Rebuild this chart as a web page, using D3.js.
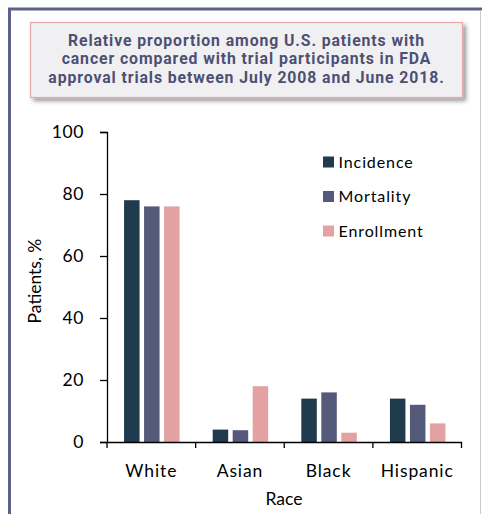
<!DOCTYPE html>
<html>
<head>
<meta charset="utf-8">
<script src="https://cdn.jsdelivr.net/npm/d3@7"></script>
<style>
  html, body { margin: 0; padding: 0; background: #ffffff; }
  svg { display: block; }
</style>
</head>
<body>
<script>
// Race categories and the three measures per category (percent of patients)
const races = ["White", "Asian", "Black", "Hispanic"];
const seriesNames = ["Incidence", "Mortality", "Enrollment"];
const incidence = [78, 4, 14, 14];
const mortality = [76, 3.8, 16, 12];
const enrollment = [76, 18, 3, 6];
const yTicks = [0, 20, 40, 60, 80, 100];
const titleLines = [
  "Relative proportion among U.S. patients with",
  "cancer compared with trial participants in FDA",
  "approval trials between July 2008 and June 2018."
];

const seriesValues = [incidence, mortality, enrollment];
const colors = ["#1f3b4d", "#565a7a", "#e3a1a2"];

const W = 482, H = 514;
const svg = d3.select("body").append("svg").attr("width", W).attr("height", H);

const defs = svg.append("defs");
const shadow = defs.append("filter").attr("id", "boxShadow")
  .attr("x", "-5%").attr("y", "-10%").attr("width", "115%").attr("height", "130%");
shadow.append("feDropShadow").attr("dx", 3).attr("dy", 3).attr("stdDeviation", 2)
  .attr("flood-color", "#000").attr("flood-opacity", 0.4);

// Outer panel frame
svg.append("rect").attr("x", 9.5).attr("y", 9).attr("width", 480).attr("height", 520)
  .attr("fill", "#fff").attr("stroke", "#5d6088").attr("stroke-width", 3);
svg.append("line").attr("x1", 480.5).attr("x2", 480.5).attr("y1", 10).attr("y2", H)
  .attr("stroke", "#c9c9cf").attr("stroke-width", 1);

// Title box
svg.append("rect").attr("x", 30.5).attr("y", 22.5).attr("width", 432).attr("height", 75)
  .attr("fill", "#f0f0f2").attr("stroke", "#e5a7a7").attr("stroke-width", 1.2)
  .attr("filter", "url(#boxShadow)");
svg.append("g").selectAll("text").data(titleLines).join("text")
  .attr("x", 246.5).attr("y", (d, i) => 45.5 + i * 18.7)
  .attr("text-anchor", "middle")
  .attr("font-family", "Roboto, sans-serif").attr("font-weight", "bold")
  .attr("font-size", 15.8).attr("letter-spacing", 0.9).attr("fill", "#4d5072")
  .text(d => d);

// Plot area
const margin = { left: 107, right: 461.5, top: 132, bottom: 442 };
const x = d3.scaleBand().domain(races).range([margin.left, margin.right]).paddingInner(0).paddingOuter(0);
const y = d3.scaleLinear().domain([0, 100]).range([margin.bottom, margin.top]);

const barW = 15.5, barGap = 4.5;
const groupW = seriesNames.length * barW + (seriesNames.length - 1) * barGap;

const groups = svg.append("g").selectAll("g").data(races).join("g")
  .attr("transform", d => `translate(${x(d) + x.bandwidth() / 2 - groupW / 2 + 0.5},0)`);
groups.selectAll("rect")
  .data((d, i) => seriesValues.map((vals, s) => ({ s, v: vals[i] })))
  .join("rect")
  .attr("x", d => d.s * (barW + barGap))
  .attr("width", barW)
  .attr("y", d => y(d.v))
  .attr("height", d => y(0) - y(d.v))
  .attr("fill", d => colors[d.s]);

const tickFont = "Lato, 'Noto Sans', sans-serif";

// Y axis
const yAxis = svg.append("g").attr("transform", `translate(${margin.left},0)`)
  .call(d3.axisLeft(y).tickValues(yTicks).tickSize(7).tickPadding(16).tickFormat(d3.format("d")));
yAxis.select(".domain").attr("stroke", "#000").attr("stroke-width", 1.3);
yAxis.selectAll(".tick line").attr("stroke", "#000").attr("stroke-width", 1.3);
yAxis.selectAll("text").attr("font-family", tickFont).attr("font-size", 17.5).attr("fill", "#000")
  .attr("letter-spacing", 0.6);

// X axis
const xAxis = svg.append("g").attr("transform", `translate(0,${margin.bottom})`)
  .call(d3.axisBottom(x).tickSize(0).tickPadding(23));
xAxis.select(".domain").attr("stroke", "#000").attr("stroke-width", 1.3);
xAxis.selectAll("text").attr("font-family", tickFont).attr("font-size", 17.5).attr("fill", "#000")
  .attr("letter-spacing", 0.9);
// Category boundary ticks
const bounds = races.map(r => x(r)).concat([margin.right]);
xAxis.selectAll(".bound").data(bounds).join("line").attr("class", "bound")
  .attr("x1", d => d).attr("x2", d => d).attr("y1", 0).attr("y2", 6)
  .attr("stroke", "#000").attr("stroke-width", 1.3);

// Axis titles
svg.append("text").attr("transform", "translate(41,281) rotate(-90)")
  .attr("text-anchor", "middle").attr("font-family", tickFont).attr("font-size", 17.5)
  .attr("fill", "#000").text("Patients, %");
svg.append("text").attr("x", 284).attr("y", 505)
  .attr("text-anchor", "middle").attr("font-family", tickFont).attr("font-size", 17.5)
  .attr("fill", "#000").text("Race");

// Legend
const legend = svg.append("g").selectAll("g").data(seriesNames).join("g")
  .attr("transform", (d, i) => `translate(323,${156.5 + i * 34.5})`);
legend.append("rect").attr("width", 11).attr("height", 11).attr("fill", (d, i) => colors[i]);
legend.append("text").attr("x", 15.5).attr("y", 11)
  .attr("font-family", tickFont).attr("font-size", 16).attr("letter-spacing", 0.9)
  .attr("fill", "#000").text(d => d);
</script>
</body>
</html>
